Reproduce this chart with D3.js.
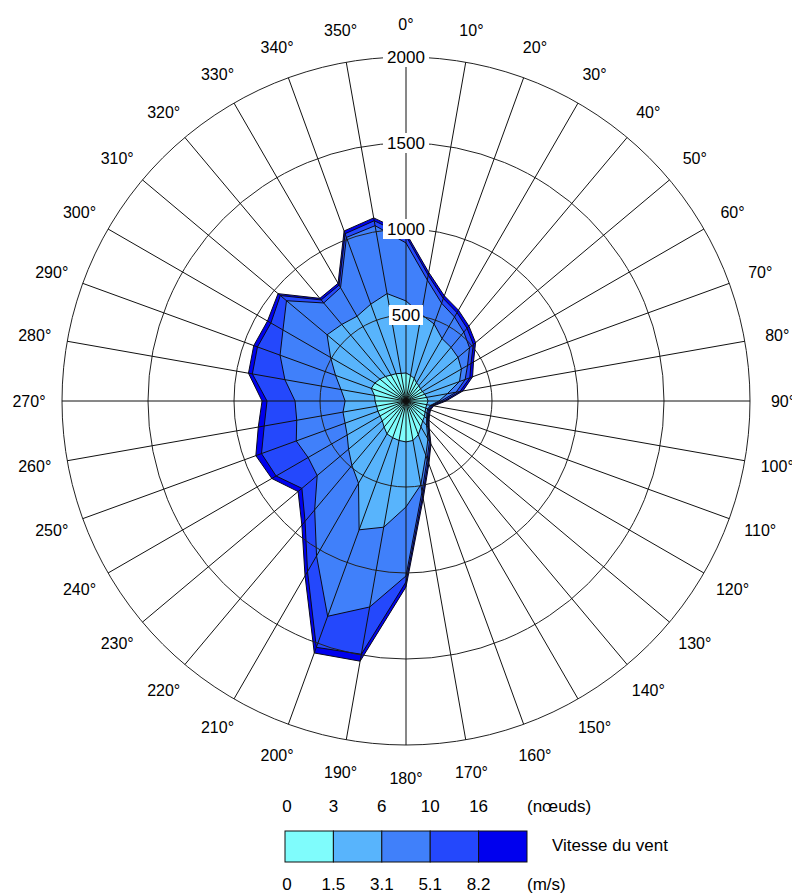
<!DOCTYPE html>
<html>
<head>
<meta charset="utf-8">
<script src="https://cdn.jsdelivr.net/npm/d3@7"></script>
<style>
  body { margin: 0; background: #fff; }
  svg text { font-family: Arial, "Liberation Sans", sans-serif; fill: #000; }
</style>
</head>
<body>
<div id="chart"></div>
<script>
// Directions (degrees, clockwise from north)
var directions = [0, 10, 20, 30, 40, 50, 60, 70, 80, 90, 100, 110, 120, 130, 140, 150, 160, 170,
                  180, 190, 200, 210, 220, 230, 240, 250, 260, 270, 280, 290, 300, 310, 320, 330, 340, 350];

// Counts per speed class for each direction
var class1 = [163, 151, 140, 122, 116, 110, 110, 116, 122, 128, 122, 122, 128, 140, 151, 174, 209, 233,
              238, 233, 227, 221, 198, 180, 174, 174, 174, 180, 186, 215, 209, 198, 186, 174, 169, 163];
var class2 = [419, 360, 337, 297, 291, 285, 262, 215, 122, 64, 23, 12, 12, 17, 35, 81, 128, 262,
              378, 512, 570, 331, 291, 256, 221, 203, 198, 174, 198, 221, 297, 401, 395, 395, 430, 471];
var class3 = [337, 203, 128, 145, 116, 87, 41, 35, 52, 12, 6, 6, 6, 6, 12, 17, 23, 41,
              401, 471, 535, 488, 337, 238, 262, 302, 273, 291, 331, 343, 320, 308, 163, 192, 413, 401];
var class4 = [41, 29, 29, 29, 29, 29, 23, 29, 23, 17, 6, 6, 6, 6, 6, 12, 17, 23,
              35, 279, 192, 105, 87, 116, 215, 215, 192, 163, 192, 140, 81, 47, 23, 17, 23, 29];
var class5 = [17, 17, 17, 17, 17, 17, 17, 17, 17, 12, 6, 6, 6, 6, 6, 6, 12, 17,
              29, 41, 35, 29, 29, 29, 29, 35, 35, 29, 23, 23, 23, 17, 12, 12, 17, 17];

var speedKeys = ["c1", "c2", "c3", "c4", "c5"];
var speedColors = ["#7ffcfc", "#58b4fc", "#4080fa", "#2448fc", "#0000ee"];
var knotLabels = ["0", "3", "6", "10", "16"];
var msLabels = ["0", "1.5", "3.1", "5.1", "8.2"];
var radialTicks = [500, 1000, 1500, 2000];

var width = 792, height = 895;
var cx = 406, cy = 401;

var svg = d3.select("#chart").append("svg")
    .attr("width", width)
    .attr("height", height);

var g = svg.append("g")
    .attr("transform", "translate(" + cx + "," + cy + ")");

// Scales
var rScale = d3.scaleLinear().domain([0, 2000]).range([0, 344]);
var aScale = d3.scaleLinear().domain([0, 360]).range([0, 2 * Math.PI]);

// Table for the stack
var rows = directions.map(function (d, i) {
    return { dir: d, c1: class1[i], c2: class2[i], c3: class3[i], c4: class4[i], c5: class5[i] };
});
var stacked = d3.stack().keys(speedKeys)(rows);

var radial = d3.lineRadial()
    .angle(function (d) { return aScale(d.data.dir); })
    .radius(function (d) { return rScale(d[1]); })
    .curve(d3.curveLinearClosed);

// Outer classes first, inner on top
g.selectAll(".speed")
    .data(stacked.slice().reverse())
    .enter().append("path")
    .attr("class", "speed")
    .attr("d", function (d) { return radial(d); })
    .attr("fill", function (d) { return speedColors[speedKeys.indexOf(d.key)]; })
    .attr("stroke", "#0a0a1a")
    .attr("stroke-width", 1)
    .attr("stroke-linejoin", "round");

// Grid: circles and spokes on top of the areas
g.selectAll(".ring")
    .data(radialTicks)
    .enter().append("circle")
    .attr("class", "ring")
    .attr("r", function (d) { return rScale(d); })
    .attr("fill", "none")
    .attr("stroke", "#222")
    .attr("stroke-width", 1);

g.selectAll(".spoke")
    .data(directions)
    .enter().append("line")
    .attr("class", "spoke")
    .attr("x1", 0).attr("y1", 0)
    .attr("x2", function (d) { return rScale(2000) * Math.sin(aScale(d)); })
    .attr("y2", function (d) { return -rScale(2000) * Math.cos(aScale(d)); })
    .attr("stroke", "#111")
    .attr("stroke-width", 1);

// Radial tick labels with white boxes
var tickLab = g.selectAll(".rtick")
    .data(radialTicks)
    .enter().append("g")
    .attr("class", "rtick")
    .attr("transform", function (d) { return "translate(0," + (-rScale(d)) + ")"; });

tickLab.append("rect")
    .attr("x", function (d) { return d >= 1000 ? -23 : -17; })
    .attr("y", -10)
    .attr("width", function (d) { return d >= 1000 ? 46 : 34; })
    .attr("height", 20)
    .attr("fill", "#fff");

tickLab.append("text")
    .attr("text-anchor", "middle")
    .attr("dy", "0.36em")
    .style("font-size", "17px")
    .text(function (d) { return d; });

// Direction labels
g.selectAll(".dirlab")
    .data(directions)
    .enter().append("text")
    .attr("class", "dirlab")
    .attr("x", function (d) { return 377 * Math.sin(aScale(d)); })
    .attr("y", function (d) { return -377 * Math.cos(aScale(d)); })
    .attr("text-anchor", "middle")
    .attr("dy", "0.36em")
    .style("font-size", "16px")
    .text(function (d) { return d + "°"; });

// Legend
var legend = svg.append("g").attr("class", "legend");
var boxX = d3.scaleLinear().domain([0, 5]).range([285, 527]);

legend.selectAll(".lbox")
    .data(speedKeys)
    .enter().append("rect")
    .attr("class", "lbox")
    .attr("x", function (d, i) { return boxX(i); })
    .attr("y", 831)
    .attr("width", function (d, i) { return boxX(i + 1) - boxX(i); })
    .attr("height", 31)
    .attr("fill", function (d, i) { return speedColors[i]; })
    .attr("stroke", "#111")
    .attr("stroke-width", 1);

legend.selectAll(".knot")
    .data(knotLabels)
    .enter().append("text")
    .attr("class", "knot")
    .attr("x", function (d, i) { return i === 0 ? boxX(i) + 2 : boxX(i); })
    .attr("y", 812)
    .attr("text-anchor", "middle")
    .style("font-size", "17px")
    .text(function (d) { return d; });

legend.selectAll(".ms")
    .data(msLabels)
    .enter().append("text")
    .attr("class", "ms")
    .attr("x", function (d, i) { return i === 0 ? boxX(i) + 2 : boxX(i); })
    .attr("y", 890)
    .attr("text-anchor", "middle")
    .style("font-size", "17px")
    .text(function (d) { return d; });

legend.append("text")
    .attr("x", 527).attr("y", 812)
    .style("font-size", "17px")
    .text("(nœuds)");

legend.append("text")
    .attr("x", 527).attr("y", 890)
    .style("font-size", "17px")
    .text("(m/s)");

legend.append("text")
    .attr("x", 552).attr("y", 851)
    .style("font-size", "17px")
    .text("Vitesse du vent");
</script>
</body>
</html>
